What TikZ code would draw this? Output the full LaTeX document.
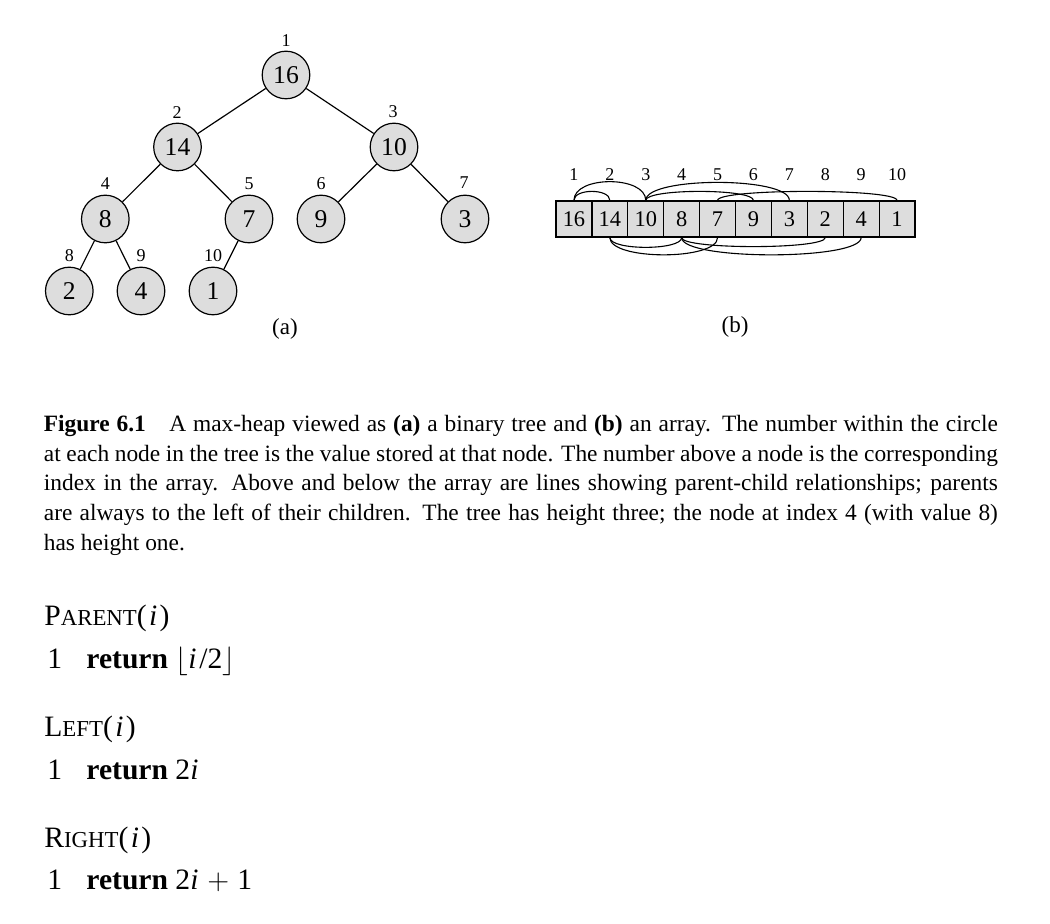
\documentclass[tikz,border=0pt]{standalone}
\usepackage{fontspec}
\setmainfont{Liberation Serif}
\definecolor{cellgray}{RGB}{221,221,221}
% small capitals built from two sizes of the roman face
\newcommand\scword[2]{#1{\fontsize{11.4}{13}\selectfont #2}}
\newcommand\codeline[1]{\fontsize{14.8}{17}\selectfont #1}
\begin{document}
\begin{tikzpicture}[x=0.5pt,y=0.5pt,
  every node/.style={inner sep=0pt},
  heapnode/.style={circle, draw, fill=cellgray, minimum size=23.8pt,
    line width=0.6pt, font=\fontsize{12.8}{14}\selectfont},
  treeidx/.style={font=\fontsize{9}{10}\selectfont},
  cell/.style={rectangle, draw, fill=cellgray, minimum width=17.95pt,
    minimum height=18pt, line width=0.6pt, font=\fontsize{11.2}{12}\selectfont},
  arrayidx/.style={font=\fontsize{9}{10}\selectfont},
  edge/.style={line width=0.6pt},
  link/.style={line width=0.55pt},
  sublabel/.style={font=\fontsize{11.5}{13}\selectfont},
  capline/.style={anchor=base west, font=\fontsize{11.7}{14}\selectfont},
  codetext/.style={anchor=base west, font=\codeline{}},
]
\useasboundingbox (0,0) rectangle (1050,-924);
\fill[white] (0,0) rectangle (1050,-924);

% ---------- (a) the heap as a binary tree ----------
\node[heapnode] (n1)  at (286,-75)   {16};
\node[heapnode] (n2)  at (177.5,-147) {14};
\node[heapnode] (n3)  at (394,-147)  {10};
\node[heapnode] (n4)  at (105.3,-219) {8};
\node[heapnode] (n5)  at (249,-219)  {7};
\node[heapnode] (n6)  at (321,-219)  {9};
\node[heapnode] (n7)  at (465,-219)  {3};
\node[heapnode] (n8)  at (69.3,-291) {2};
\node[heapnode] (n9)  at (141,-291)  {4};
\node[heapnode] (n10) at (213,-291)  {1};

\draw[edge] (n1) -- (n2);
\draw[edge] (n1) -- (n3);
\draw[edge] (n2) -- (n4);
\draw[edge] (n2) -- (n5);
\draw[edge] (n3) -- (n6);
\draw[edge] (n3) -- (n7);
\draw[edge] (n4) -- (n8);
\draw[edge] (n4) -- (n9);
\draw[edge] (n5) -- (n10);

\node[treeidx] (t1)  at (286,-40.5)  {1};
\node[treeidx] (t2)  at (177,-112.5) {2};
\node[treeidx] (t3)  at (393,-111.7) {3};
\node[treeidx] (t4)  at (105.3,-184) {4};
\node[treeidx] (t5)  at (249,-184)   {5};
\node[treeidx] (t6)  at (321,-184)   {6};
\node[treeidx] (t7)  at (464,-183)   {7};
\node[treeidx] (t8)  at (69.3,-256)  {8};
\node[treeidx] (t9)  at (141,-256)   {9};
\node[treeidx] (t10) at (213,-256)   {10};

\node[sublabel] (suba) at (285,-329) {(a)};

% ---------- (b) the heap as an array ----------
\foreach \v [count=\k] in {16,14,10,8,7,9,3,2,4,1} {
  \node[cell] (c\k) at ({556+35.9*(\k-0.5)},-219) {\v};
  \node[arrayidx] (a\k) at ({556+35.9*(\k-0.5)},-175) {\k};
}

% parent-child lines above the array
\draw[link] (c1.north) to[out=90,in=90,distance=6pt]  (c2.north);
\draw[link] (c1.north) to[out=90,in=90,distance=12.5pt] (c3.north);
\draw[link] (c3.north) to[out=90,in=90,distance=6pt]  (c6.north);
\draw[link] (c3.north) to[out=90,in=90,distance=12pt] (c7.north);
\draw[link] (c5.north) to[out=90,in=90,distance=6pt]  (c10.north);
% parent-child lines below the array
\draw[link] (c2.south) to[out=-90,in=-90,distance=6.5pt] (c4.south);
\draw[link] (c2.south) to[out=-90,in=-90,distance=11.5pt] (c5.south);
\draw[link] (c4.south) to[out=-90,in=-90,distance=6pt]   (c8.south);
\draw[link] (c4.south) to[out=-90,in=-90,distance=11.5pt] (c9.south);

\node[sublabel] (subb) at (735,-327) {(b)};

% ---------- caption ----------
\node[capline] (cap1) at (43.5,-431.7) {\makebox[477pt][s]{\textbf{Figure 6.1}\quad A max-heap viewed as \textbf{(a)} a binary tree and \textbf{(b)} an array. The number within the circle}};
\node[capline] (cap2) at (43.5,-461.3) {\makebox[477pt][s]{at each node in the tree is the value stored at that node. The number above a node is the corresponding}};
\node[capline] (cap3) at (43.5,-490.9) {\makebox[477pt][s]{index in the array. Above and below the array are lines showing parent-child relationships; parents}};
\node[capline] (cap4) at (43.5,-520.5) {\makebox[477pt][s]{are always to the left of their children. The tree has height three; the node at index 4 (with value 8)}};
\node[capline] (cap5) at (43.5,-550.1) {has height one.};

% ---------- index procedures ----------
\node[codetext] (p0) at (44,-626)  {\scword{P}{ARENT}(\kern1.2pt\textit{i}\kern1.2pt)};
\node[codetext] (p1) at (47,-669)  {1};
\node[codetext] (p2) at (86,-669)  {\textbf{return} $\lfloor$\textit{i}\kern1.5pt/2$\rfloor$};
\node[codetext] (l0) at (44,-737)  {\scword{L}{EFT}(\kern1.2pt\textit{i}\kern1.2pt)};
\node[codetext] (l1) at (47,-779)  {1};
\node[codetext] (l2) at (86,-779)  {\textbf{return} 2\textit{i}};
\node[codetext] (r0) at (44,-847)  {\scword{R}{IGHT}(\kern1.2pt\textit{i}\kern1.2pt)};
\node[codetext] (r1) at (47,-889)  {1};
\node[codetext] (r2) at (86,-889)  {\textbf{return} 2\textit{i}\kern4.5pt$+$\kern4pt1};
\end{tikzpicture}
\end{document}
